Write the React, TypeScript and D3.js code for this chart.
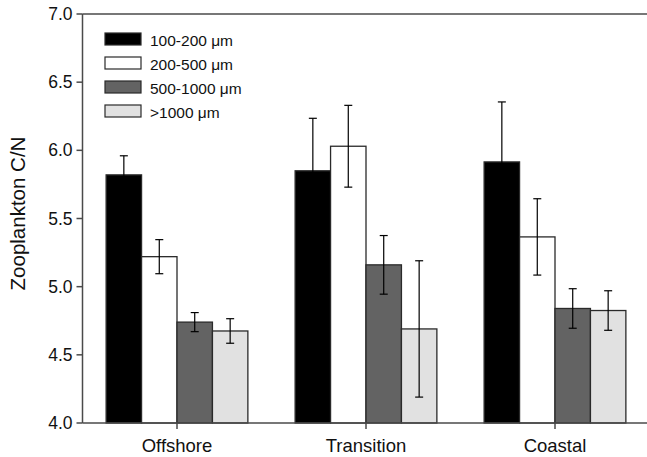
import React from "react";
import * as d3 from "d3";

const categories = ["Offshore", "Transition", "Coastal"];
const seriesNames = ["100-200 μm", "200-500 μm", "500-1000 μm", ">1000 μm"];
const seriesColors = ["#000000", "#ffffff", "#636363", "#e1e1e1"];

// Mean C/N per size fraction (Offshore, Transition, Coastal)
const mean100_200 = [5.82, 5.85, 5.915];
const mean200_500 = [5.22, 6.03, 5.365];
const mean500_1000 = [4.74, 5.16, 4.84];
const mean1000 = [4.675, 4.69, 4.825];

// Error half-widths
const err100_200 = [0.14, 0.385, 0.44];
const err200_500 = [0.125, 0.3, 0.28];
const err500_1000 = [0.07, 0.215, 0.145];
const err1000 = [0.09, 0.5, 0.145];

const yTicks = [4.0, 4.5, 5.0, 5.5, 6.0, 6.5, 7.0];

const means = [mean100_200, mean200_500, mean500_1000, mean1000];
const errs = [err100_200, err200_500, err500_1000, err1000];

const W = 647;
const H = 457;
const left = 82.5;
const right = 649.5;
const top = 14;
const bottom = 423;
const font = "'Liberation Sans', Arial, Helvetica, sans-serif";

export default function App() {
  const x = d3
    .scaleBand<string>()
    .domain(categories)
    .range([left, right])
    .paddingInner(0.25)
    .paddingOuter(0.125);
  const xs = d3
    .scaleBand<string>()
    .domain(seriesNames)
    .range([0, x.bandwidth()])
    .padding(0);
  const y = d3.scaleLinear().domain([4, 7]).range([bottom, top]);

  const axisColor = "#4a4a4a";
  const cap = 4;

  return (
    <svg
      width={W}
      height={H}
      style={{ position: "absolute", left: 0, top: 0, background: "#fff" }}
      fontFamily={font}
    >
      {/* bars */}
      {seriesNames.map((s, si) =>
        categories.map((c, ci) => {
          const v = means[si][ci];
          const bx = (x(c) ?? 0) + (xs(s) ?? 0);
          return (
            <rect
              key={`b-${si}-${ci}`}
              x={bx}
              y={y(v)}
              width={xs.bandwidth()}
              height={y(4) - y(v)}
              fill={seriesColors[si]}
              stroke="#2a2a2a"
              strokeWidth={1.3}
            />
          );
        })
      )}
      {/* error bars */}
      {seriesNames.map((s, si) =>
        categories.map((c, ci) => {
          const v = means[si][ci];
          const e = errs[si][ci];
          const cx = (x(c) ?? 0) + (xs(s) ?? 0) + xs.bandwidth() / 2;
          const y1 = y(v + e);
          const y2 = y(v - e);
          return (
            <g key={`e-${si}-${ci}`} stroke="#000" strokeWidth={1.2}>
              <line x1={cx} x2={cx} y1={y1} y2={y2} />
              <line x1={cx - cap} x2={cx + cap} y1={y1} y2={y1} />
              <line x1={cx - cap} x2={cx + cap} y1={y2} y2={y2} />
            </g>
          );
        })
      )}
      {/* frame */}
      <line x1={left} x2={W} y1={top} y2={top} stroke={axisColor} strokeWidth={1.5} />
      <line x1={left} x2={W} y1={bottom} y2={bottom} stroke={axisColor} strokeWidth={1.5} />
      <line x1={left} x2={left} y1={top} y2={bottom} stroke={axisColor} strokeWidth={1.5} />
      {/* y ticks */}
      {yTicks.map((t) => (
        <g key={`yt-${t}`}>
          <line x1={left - 6} x2={left} y1={y(t)} y2={y(t)} stroke={axisColor} strokeWidth={1.5} />
          <text
            x={left - 10}
            y={y(t)}
            textAnchor="end"
            dominantBaseline="central"
            fontSize={17.5}
            fill="#111"
          >
            {t.toFixed(1)}
          </text>
        </g>
      ))}
      {/* x ticks */}
      {categories.map((c) => {
        const cx = (x(c) ?? 0) + x.bandwidth() / 2;
        return (
          <g key={`xt-${c}`}>
            <line x1={cx} x2={cx} y1={bottom} y2={bottom + 6} stroke={axisColor} strokeWidth={1.5} />
            <text x={cx} y={451.5} textAnchor="middle" fontSize={18.5} fill="#111">
              {c}
            </text>
          </g>
        );
      })}
      {/* y axis title */}
      <text
        transform={`translate(25, ${(top + bottom) / 2 - 5}) rotate(-90)`}
        textAnchor="middle"
        fontSize={20.5}
        fill="#111"
      >
        Zooplankton C/N
      </text>
      {/* legend */}
      {seriesNames.map((s, i) => (
        <g key={`lg-${s}`} transform={`translate(105, ${33 + i * 24})`}>
          <rect width={36} height={12} fill={seriesColors[i]} stroke="#2a2a2a" strokeWidth={1.2} />
          <text x={45} y={7.5} dominantBaseline="central" fontSize={15.5} fill="#111">
            {s}
          </text>
        </g>
      ))}
    </svg>
  );
}
